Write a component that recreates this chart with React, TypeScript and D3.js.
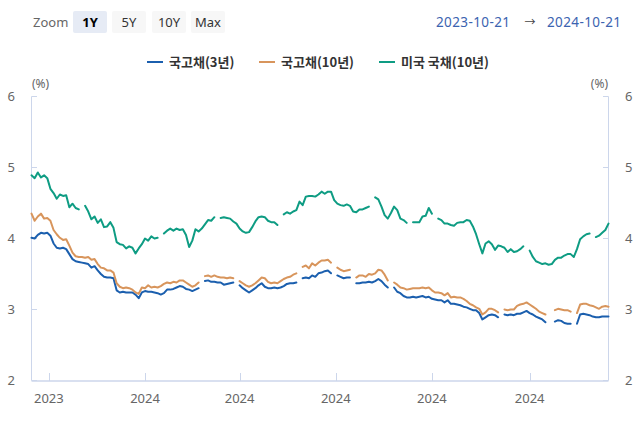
import * as d3 from "d3";

// 2-day sampling from the start of the range, null = no quote (line break)
const START = new Date(2023, 9, 21);
const END = new Date(2024, 9, 21);
const STEP_DAYS = 2;

const kr3y: (number | null)[] = [
  4.01, 4.0, 4.05, 4.08, 4.07, 4.08, 4.04, 3.93, 3.87, 3.86,
  3.87, 3.85, 3.78, 3.71, 3.68, 3.67, 3.66, 3.65, 3.64, 3.59,
  3.61, 3.55, 3.5, 3.46, 3.45, 3.45, 3.44, 3.27, 3.24, 3.25,
  3.24, 3.24, 3.24, 3.21, 3.16, 3.24, 3.26, 3.25, 3.25, 3.24,
  3.23, 3.21, 3.23, 3.28, 3.28, 3.29, 3.31, 3.33, 3.32, 3.29,
  3.28, 3.26, 3.28, 3.3, null, 3.4, 3.41, 3.39, 3.39, 3.38,
  3.38, 3.35, 3.36, 3.37, 3.38, null, 3.34, 3.3, 3.27, 3.24,
  3.27, 3.3, 3.34, 3.37, 3.32, 3.3, 3.3, 3.31, 3.3, 3.31,
  3.33, 3.36, 3.37, 3.37, 3.38, null, 3.44, 3.45, 3.44, 3.48,
  3.46, 3.51, 3.52, 3.54, 3.55, 3.51, null, 3.48, 3.46, 3.44,
  3.45, 3.45, null, 3.37, 3.37, 3.38, 3.38, 3.39, 3.38, 3.4,
  3.43, 3.4, 3.35, 3.31, null, 3.31, 3.25, 3.23, 3.19, 3.17,
  3.17, 3.18, 3.17, 3.18, 3.19, 3.17, 3.18, 3.15, 3.14, 3.13,
  3.13, 3.1, 3.13, 3.08, 3.08, 3.07, 3.06, 3.04, 3.03, 3.01,
  2.99, 2.99, 2.95, 2.86, 2.89, 2.92, 2.93, 2.92, 2.89, null,
  2.93, 2.92, 2.93, 2.92, 2.94, 2.94, 2.96, 2.98, 2.95, 2.93,
  2.9, 2.88, 2.86, 2.82, null, null, 2.83, 2.85, 2.84, 2.81,
  2.8, 2.8, null, 2.8, 2.93, 2.94, 2.93, 2.92, 2.9, 2.89,
  2.89, 2.9, 2.9, 2.9,
];

const kr10y: (number | null)[] = [
  4.35, 4.25, 4.31, 4.35, 4.28, 4.29, 4.25, 4.12, 4.06, 4.01,
  3.98, 3.99, 3.9, 3.8, 3.75, 3.74, 3.74, 3.73, 3.74, 3.7,
  3.71, 3.64, 3.59, 3.58, 3.55, 3.55, 3.52, 3.37, 3.32, 3.3,
  3.31, 3.3, 3.28, 3.24, 3.22, 3.31, 3.3, 3.34, 3.31, 3.32,
  3.31, 3.33, 3.36, 3.38, 3.37, 3.39, 3.38, 3.41, 3.41, 3.38,
  3.35, 3.32, 3.34, 3.38, null, 3.47, 3.48, 3.46, 3.48, 3.46,
  3.45, 3.45, 3.44, 3.45, 3.44, null, 3.4, 3.37, 3.34, 3.32,
  3.34, 3.37, 3.41, 3.45, 3.44, 3.39, 3.37, 3.38, 3.37, 3.4,
  3.43, 3.45, 3.46, 3.49, 3.51, null, 3.6, 3.62, 3.58, 3.65,
  3.62, 3.66, 3.69, 3.69, 3.7, 3.66, null, 3.59, 3.56, 3.54,
  3.55, 3.56, null, 3.45, 3.48, 3.48, 3.46, 3.5, 3.49, 3.51,
  3.56, 3.55, 3.49, 3.41, null, 3.38, 3.35, 3.31, 3.3, 3.28,
  3.29, 3.3, 3.3, 3.3, 3.31, 3.3, 3.31, 3.27, 3.24, 3.24,
  3.23, 3.2, 3.23, 3.17, 3.18, 3.17, 3.17, 3.15, 3.12, 3.08,
  3.06, 3.03, 3.01, 2.93, 2.96, 3.01, 3.01, 2.99, 2.96, null,
  3.0, 2.99, 3.0, 3.0, 3.05, 3.07, 3.08, 3.1, 3.07, 3.04,
  3.01, 2.97, 2.95, 2.93, null, null, 2.99, 3.01, 3.0, 2.99,
  2.99, 2.97, null, 2.95, 3.07, 3.08, 3.08, 3.06, 3.05, 3.03,
  3.01, 3.04, 3.05, 3.04,
];

const us10y: (number | null)[] = [
  4.89, 4.85, 4.93, 4.86, 4.89, 4.85, 4.7, 4.64, 4.56, 4.62,
  4.6, 4.61, 4.44, 4.49, 4.43, 4.41, null, 4.46, 4.38, 4.27,
  4.31, 4.22, 4.27, 4.16, 4.17, 4.23, 4.15, 3.95, 3.92, 3.91,
  3.86, 3.89, 3.87, 3.79, 3.86, 3.92, 4.0, 3.97, 4.03, 4.0,
  4.01, null, 4.07, 4.11, 4.14, 4.11, 4.14, 4.12, 4.13, 4.05,
  3.88, 3.97, 4.13, 4.1, 4.14, 4.2, 4.26, 4.25, 4.3, null,
  4.29, 4.3, 4.29, 4.28, 4.24, 4.21, 4.14, 4.1, 4.08, 4.09,
  4.16, 4.24, 4.3, 4.31, 4.3, 4.25, 4.23, 4.23, 4.19, null,
  4.34, 4.37, 4.35, 4.38, 4.4, 4.52, 4.47, 4.59, 4.6, 4.6,
  4.59, 4.62, 4.66, 4.63, 4.66, 4.66, 4.54, 4.49, 4.47, 4.46,
  4.48, 4.46, 4.38, 4.37, 4.41, 4.41, 4.43, 4.45, null, 4.58,
  4.55, 4.45, 4.33, 4.28, 4.36, 4.45, 4.4, 4.28, 4.26, 4.22,
  null, 4.23, 4.23, 4.23, 4.31, 4.32, 4.43, 4.35, null, 4.28,
  4.26, 4.21, 4.21, 4.19, 4.18, 4.22, 4.23, 4.23, 4.26, 4.25,
  4.17, 4.06, 3.92, 3.79, 3.93, 3.96, 3.92, 3.84, 3.9, 3.89,
  3.87, 3.81, 3.85, 3.81, 3.82, 3.85, 3.89, null, 3.83, 3.74,
  3.68, 3.66, 3.64, 3.65, 3.63, 3.64, 3.7, 3.73, 3.73, 3.76,
  3.78, 3.78, 3.74, 3.85, 3.99, 4.03, 4.06, 4.07, null, 4.02,
  4.04, 4.08, 4.12, 4.21,
];

const seriesNames = ["국고채(3년)", "국고채(10년)", "미국 국채(10년)"];
const seriesColors = ["#1b5fae", "#d8955c", "#0e9c83"];
const yTicks = [2, 3, 4, 5, 6];
const zoomButtons = ["1Y", "5Y", "10Y", "Max"];
const rangeFrom = "2023-10-21";
const rangeTo = "2024-10-21";

const W = 640;
const H = 426;
const FONT = "'Noto Sans', 'Noto Sans CJK KR', sans-serif";
const KFONT = "'Noto Sans CJK KR', 'Noto Sans', sans-serif";
const AXIS = "#ccd6eb";

export default function App() {
  const x = d3.scaleTime().domain([START, END]).range([31.5, 608.5]);
  const y = d3.scaleLinear().domain([2, 6]).range([380.5, 96.5]);

  const dates = kr3y.map((_, i) => d3.timeDay.offset(START, i * STEP_DAYS));
  const allSeries = [kr3y, kr10y, us10y];

  const line = d3
    .line<number | null>()
    .defined((d) => d != null)
    .x((_, i) => x(dates[i]))
    .y((d) => y(d as number));

  const xTicks = x.ticks(d3.timeMonth.every(2)!);
  const fmtYear = d3.timeFormat("%Y");

  // legend layout
  const legendX = [147, 259, 379];

  return (
    <>
      <style>{`body{margin:0}`}</style>
      <svg width={W} height={H} style={{ display: "block", background: "#fff" }}>
        {/* range selector */}
        <text x={33} y={27} fontSize={13} fill="#666" fontFamily={FONT}>
          Zoom
        </text>
        {zoomButtons.map((b, i) => {
          const bx = [73, 112, 152, 191][i];
          const sel = i === 0;
          return (
            <g key={b}>
              <rect x={bx} y={11} width={34} height={22} rx={2} fill={sel ? "#e6ebf5" : "#f7f7f7"} />
              <text
                x={bx + 17}
                y={27}
                textAnchor="middle"
                fontSize={13}
                fontWeight={sel ? "bold" : "normal"}
                fill={sel ? "#000" : "#333"}
                fontFamily={FONT}
              >
                {b}
              </text>
            </g>
          );
        })}
        <text x={436} y={27} fontSize={13.5} fill="#3b63b0" fontFamily={FONT} letterSpacing={0.4}>
          {rangeFrom}
        </text>
        <text x={530} y={26} fontSize={11} fill="#444" textAnchor="middle" fontFamily={FONT}>
          →
        </text>
        <text x={547} y={27} fontSize={13.5} fill="#3b63b0" fontFamily={FONT} letterSpacing={0.4}>
          {rangeTo}
        </text>

        {/* legend */}
        {seriesNames.map((n, i) => (
          <g key={n}>
            <line x1={legendX[i]} x2={legendX[i] + 16} y1={62} y2={62} stroke={seriesColors[i]} strokeWidth={2} />
            <text x={legendX[i] + 22} y={67} fontSize={13} fontWeight="bold" fill="#333" fontFamily={KFONT}>
              {n}
            </text>
          </g>
        ))}

        {/* axis units */}
        <text x={32} y={88} fontSize={12} fill="#666" fontFamily={FONT}>
          (%)
        </text>
        <text x={608} y={88} fontSize={12} fill="#666" textAnchor="end" fontFamily={FONT}>
          (%)
        </text>

        {/* y axes */}
        <line x1={31.5} x2={31.5} y1={96.5} y2={380.5} stroke={AXIS} />
        <line x1={608.5} x2={608.5} y1={96.5} y2={380.5} stroke={AXIS} />
        {yTicks.map((t) => (
          <g key={t}>
            <line x1={31.5} x2={37} y1={y(t)} y2={y(t)} stroke={AXIS} />
            <line x1={603} x2={608.5} y1={y(t)} y2={y(t)} stroke={AXIS} />
            <text x={15} y={y(t) + 4.5} fontSize={13} textAnchor="end" fill="#666" fontFamily={FONT}>
              {t}
            </text>
            <text x={625} y={y(t) + 4.5} fontSize={13} fill="#666" fontFamily={FONT}>
              {t}
            </text>
          </g>
        ))}

        {/* x axis */}
        <line x1={31.5} x2={608.5} y1={381} y2={381} stroke={AXIS} strokeWidth={1.5} />
        {xTicks.map((t) => (
          <g key={t.getTime()}>
            <line x1={Math.round(x(t)) + 0.5} x2={Math.round(x(t)) + 0.5} y1={373} y2={381} stroke={AXIS} />
            <text x={x(t)} y={403} fontSize={13} textAnchor="middle" fill="#666" fontFamily={FONT}>
              {fmtYear(t)}
            </text>
          </g>
        ))}

        {/* series */}
        {allSeries.map((s, i) => (
          <path
            key={seriesNames[i]}
            d={line(s) ?? ""}
            fill="none"
            stroke={seriesColors[i]}
            strokeWidth={2}
            strokeLinejoin="round"
            strokeLinecap="round"
          />
        ))}
      </svg>
    </>
  );
}
